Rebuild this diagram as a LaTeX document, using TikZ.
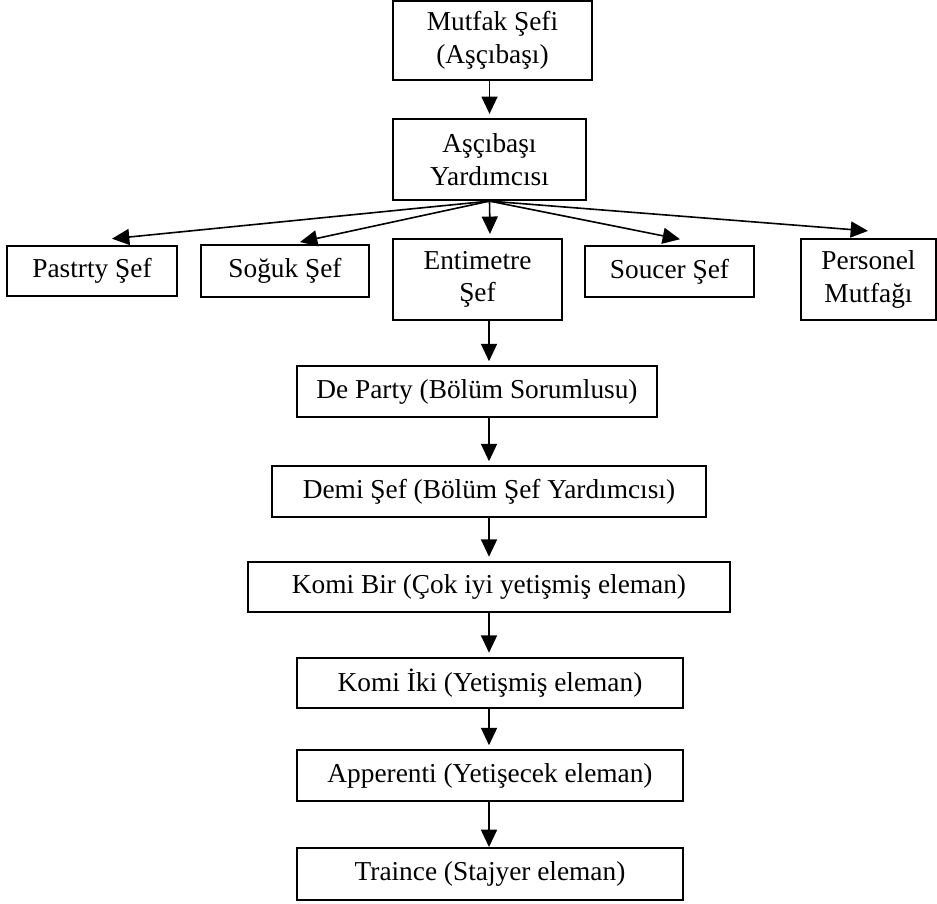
\documentclass[tikz,border=0pt]{standalone}
\usepackage{fontspec}
\setmainfont{Liberation Serif}
\usetikzlibrary{
    arrows.meta,
    calc,
    positioning,
}

\begin{document}
\begin{tikzpicture}[
    x=0.75pt, y=0.75pt,
    box/.style={draw, line width=1.4pt, fill=none, text=black, align=center,
    inner sep=0pt, font=\fontsize{20.5}{24.5}\selectfont, minimum height=38pt},
    tallbox/.style={box, minimum height=61pt},
    arr/.style={-{Triangle[length=13pt, width=12pt]}, line width=1.2pt,
    shorten >=3pt},
]

\useasboundingbox (0,0) rectangle (937,903);

% TOP
\node[tallbox, minimum width=149pt, minimum height=59pt] at (492.5,862.5) (sefi) {Mutfak Şefi\\(Aşçıbaşı)};
\node[tallbox, minimum width=145pt] at (489.5,743.5) (yardimci) {Aşçıbaşı\\Yardımcısı};

% ROW
\node[box, minimum width=127.5pt] at (92,632) (pastry) {Pastrty Şef};
\node[box, minimum width=126pt, minimum height=39pt] at (285,632) (soguk) {Soğuk Şef};
\node[tallbox, minimum width=127pt] at (477.5,623.5) (entimetre) {Entimetre\\Şef};
\node[box, minimum width=127pt] at (669.5,631.5) (soucer) {Soucer Şef};
\node[tallbox, minimum width=101pt] at (868.5,623.5) (personel) {Personel\\Mutfağı};

% CHAIN
\node[box, minimum width=270pt] at (477,511.5) (departy) {De Party (Bölüm Sorumlusu)};
\node[box, minimum width=325.5pt] at (489,411.5) (demi) {Demi Şef (Bölüm Şef Yardımcısı)};
\node[box, minimum width=361.5pt] at (489,316) (komibir) {Komi Bir (Çok iyi yetişmiş eleman)};
\node[box, minimum width=289.5pt] at (490,220) (komiiki) {Komi İki (Yetişmiş eleman)};
\node[box, minimum width=289.5pt] at (490,127.5) (apperenti) {Apperenti (Yetişecek eleman)};
\node[box, minimum width=289.5pt, minimum height=39pt] at (490,29) (traince) {Traince (Stajyer eleman)};

\coordinate (spine) at (489,0);

% ARROWS
\draw[arr] (yardimci.north |- sefi.south) -- (yardimci.north);
\draw[arr, shorten >=0pt] (yardimci.south) -- ($(pastry.north)+(20,6)$);
\draw[arr, shorten >=0pt] (yardimci.south) -- ($(soguk.north)+(15,2)$);
\draw[arr, shorten >=0pt] (yardimci.south) -- ($(entimetre.north)+(12.5,4)$);
\draw[arr, shorten >=0pt] (yardimci.south) -- ($(soucer.north)+(10.5,6)$);
\draw[arr, shorten >=0pt] (yardimci.south) -- ($(personel.north)+(-0.5,7)$);

\draw[arr] (entimetre.south -| spine) -- (departy.north -| spine);
\draw[arr] (departy.south -| spine) -- (demi.north -| spine);
\draw[arr] (demi.south -| spine) -- (komibir.north -| spine);
\draw[arr] (komibir.south -| spine) -- (komiiki.north -| spine);
\draw[arr] (komiiki.south -| spine) -- (apperenti.north -| spine);
\draw[arr, shorten >=0pt] (apperenti.south -| spine) -- (traince.north -| spine);

\end{tikzpicture}
\end{document}
